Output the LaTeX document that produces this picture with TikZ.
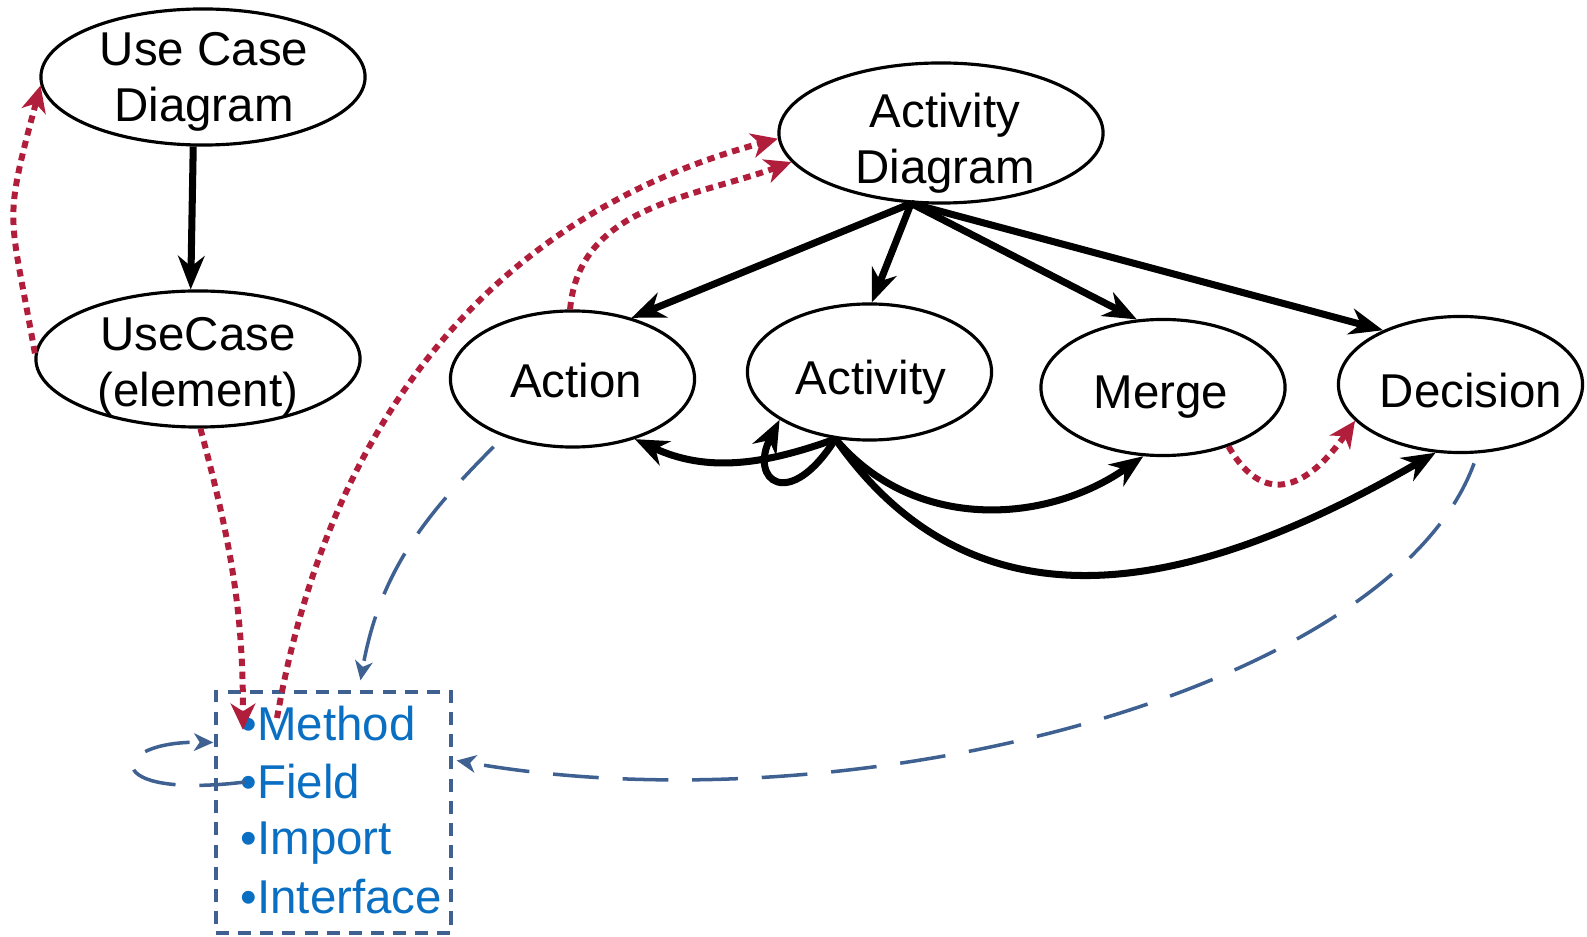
\documentclass[tikz,border=0pt]{standalone}
\usepackage{fontspec}
\setmainfont{Liberation Sans}
\usetikzlibrary{arrows.meta,shapes.geometric,calc}
\definecolor{redc}{HTML}{B01E3C}
\definecolor{bluel}{HTML}{3E6192}
\definecolor{bluet}{HTML}{0A6FC2}
\begin{document}
\begin{tikzpicture}[x=0.01cm,y=-0.01cm,
  ell/.style={draw, ellipse, line width=0.9pt, minimum width=3.24cm, minimum height=1.36cm, inner sep=0pt},
  ells/.style={ell, minimum width=2.44cm},
  lab/.style={align=center, font=\fontsize{13.5}{16}\selectfont, inner sep=0pt},
  blk/.style={line width=2pt, -{Stealth[length=9.5pt,width=7.5pt,inset=3pt]}},
  redd/.style={draw=redc, line width=1.7pt, dash pattern=on 2.1pt off 1.6pt, -{Stealth[length=7.5pt,width=7pt,inset=2.2pt]}},
  blued/.style={draw=bluel, line width=1pt, dash pattern=on 13pt off 6.8pt, -{Stealth[length=5.5pt,width=5pt,inset=1.6pt]}},
  boxst/.style={draw=bluel, line width=0.9pt, dash pattern=on 3.7pt off 2.6pt, minimum width=2.35cm, minimum height=2.41cm, inner sep=0pt},
  itm/.style={text=bluet, font=\fontsize{13.5}{16}\selectfont, inner sep=0pt, anchor=base west}]
\useasboundingbox (0,0) rectangle (1587,937);

% ellipses
\node[ell] (UCD) at (203,77) {};
\node[ell] (UC) at (198,359) {};
\node[ell, minimum height=1.40cm] (AD) at (941,133) {};
\node[ells] (Action) at (572.5,379) {};
\node[ells] (Act) at (869.5,372) {};
\node[ells] (Merge) at (1163,387.5) {};
\node[ells] (Dec) at (1460.5,384.5) {};

% labels
\node[lab] (tUCD) at (204,82) {Use Case\\Diagram};
\node[lab] (tUC) at (198,367) {UseCase\\(element)};
\node[lab] (tAD) at (945,143) {Activity\\Diagram};
\node[lab, anchor=base] (tAction) at (576,398) {Action};
\node[lab, anchor=base] (tAct) at (871,395) {Activity};
\node[lab, anchor=base] (tMerge) at (1161,409) {Merge};
\node[lab, anchor=base] (tDec) at (1471,408) {Decision};

% box
\node[boxst] (box) at (333.5,812.5) {};
\node[itm] (iM) at (240,741) {•Method};
\node[itm] (iF) at (240,798) {•Field};
\node[itm] (iI) at (240,855) {•Import};
\node[itm] (iN) at (240,913) {•Interface};

\coordinate (mtip) at (243,730);
\coordinate (mst) at (277,718);
\coordinate (loopS) at (245,782);
\coordinate (bxL) at ($(box.west)+(-1,-70)$);
\coordinate (bxT) at ($(box.north)+(27,-10)$);
\coordinate (bxR) at ($(box.east)+(4,-52)$);
\coordinate (ADs) at (AD.247);
\coordinate (actS) at (Act.243);

% black connectors
\draw[blk] (UCD.262) -- (UC.96);
\draw[blk] (ADs) -- (Action.46);
\draw[blk] (ADs) -- (Act.88);
\draw[blk] (ADs) -- (Merge.111);
\draw[blk] (ADs) -- (Dec.145);
\draw[blk] (actS) to[out=200,in=-25] (Action.316);
\draw[blk] (actS) .. controls +(-46,73) and +(-31,61) .. (Act.208);
\draw[blk] (actS) to[out=-50,in=215] (Merge.254);
\draw[blk] (actS) to[out=-55,in=210,looseness=1.1] (Dec.250);

% red dotted connectors
\draw[redd] (UC.178) to[out=100,in=255,looseness=1.4] (UCD.183);
\draw[redd] (UC.272) to[out=-75,in=90] (mtip);
\draw[redd] (mst) to[out=80,in=195] (AD.182);
\draw[redd] (Action.92) to[out=85,in=200] (AD.191);
\draw[redd] (Merge.318) to[out=-60,in=235,looseness=1.5] (Dec.199);

% blue dashed connectors
\draw[blued, shorten <=4pt] (Action.220) to[out=225,in=80] (bxT);
\draw[blued, shorten <=3pt] (Dec.284) .. controls +(-87,238) and +(395,70) .. (bxR);
\draw[blued] (loopS) .. controls +(-147,18) and +(-105,-2) .. (bxL);
\end{tikzpicture}
\end{document}
